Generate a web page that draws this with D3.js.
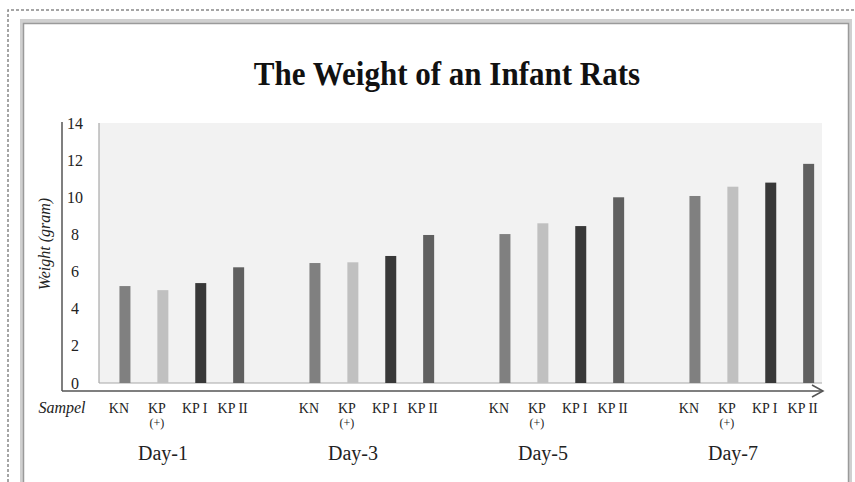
<!DOCTYPE html>
<html>
<head>
<meta charset="utf-8">
<script src="https://cdn.jsdelivr.net/npm/d3@7/dist/d3.min.js"></script>
<style>
  html, body { margin: 0; padding: 0; background: #fff; }
  svg { display: block; }
  text { font-family: "Liberation Serif", "Times New Roman", serif; fill: #222; }
</style>
</head>
<body>
<svg id="chart" width="855" height="482"></svg>
<script>
const title = "The Weight of an Infant Rats";
const days = ["Day-1", "Day-3", "Day-5", "Day-7"];
const samples = ["KN", "KP(+)", "KP I", "KP II"];
const sampleLabels = ["KN", "KP", "KP I", "KP II"];
const sampleSubLabels = ["", "(+)", "", ""];
const colors = ["#808080", "#c0c0c0", "#383838", "#606060"];
const valuesKN   = [5.22, 6.46, 8.02, 10.07];
const valuesKPp  = [5.00, 6.50, 8.60, 10.57];
const valuesKPI  = [5.38, 6.84, 8.45, 10.79];
const valuesKPII = [6.23, 7.97, 10.00, 11.80];
const yTicks = [0, 2, 4, 6, 8, 10, 12, 14];
const yLabel = "Weight (gram)";
const xLabel = "Sampel";

const seriesValues = [valuesKN, valuesKPp, valuesKPI, valuesKPII];
const data = [];
days.forEach((d, di) => samples.forEach((s, si) => data.push({day: d, sample: s, si, value: seriesValues[si][di]})));

const svg = d3.select("#chart");

// outer dashed frame
svg.append("path").attr("d", "M8,482 L8,10 L855,10")
  .attr("fill", "none").attr("stroke", "#888").attr("stroke-width", 1.5).attr("stroke-dasharray", "3,2");

// inner box with shadowed border
svg.append("rect").attr("x", 22).attr("y", 21).attr("width", 828).attr("height", 470)
  .attr("fill", "#fff").attr("stroke", "#d0d0d0").attr("stroke-width", 4);
svg.append("rect").attr("x", 23.5).attr("y", 23.5).attr("width", 825).attr("height", 470)
  .attr("fill", "none").attr("stroke", "#9a9a9a").attr("stroke-width", 1.5);

// title
svg.append("text").attr("transform", "translate(447,85) scale(0.97,1.08)").attr("text-anchor", "middle")
  .style("font-size", "32px").style("font-weight", "bold").style("fill", "#111").text(title);

const y = d3.scaleLinear().domain([0, 14]).range([383, 123]);
const x0 = d3.scaleBand().domain(days).range([106, 866]).padding(0);
const x1 = d3.scaleBand().domain(samples).range([0, 151.6]).padding(0);
const barW = 11;
const cx = d => x0(d.day) + x1(d.sample) + x1.bandwidth() / 2;

// plot area
svg.append("rect").attr("x", 99).attr("y", y(14)).attr("width", 723).attr("height", y(0) - y(14))
  .attr("fill", "#f2f2f2");
svg.append("line").attr("x1", 99).attr("x2", 99).attr("y1", y(14)).attr("y2", y(0))
  .attr("stroke", "#a8a8a8").attr("stroke-width", 1.2);
svg.append("line").attr("x1", 99).attr("x2", 822).attr("y1", y(0)).attr("y2", y(0))
  .attr("stroke", "#a8a8a8").attr("stroke-width", 1.2);

// bars
svg.append("g").selectAll("rect").data(data).join("rect")
  .attr("x", d => cx(d) - barW / 2)
  .attr("y", d => y(d.value))
  .attr("width", barW)
  .attr("height", d => y(0) - y(d.value))
  .attr("fill", d => colors[d.si]);

// y axis
const yAxis = d3.axisLeft(y).tickValues(yTicks).tickSize(0).tickPadding(0);
const gy = svg.append("g").attr("transform", "translate(83,0)").call(yAxis);
gy.select(".domain").remove();
gy.selectAll("text").style("font-size", "16px").style("fill", "#222")
  .attr("text-anchor", "middle").attr("dx", "-8");
svg.append("line").attr("x1", 62).attr("x2", 62).attr("y1", 122).attr("y2", 391)
  .attr("stroke", "#555").attr("stroke-width", 1.5);

// x axis arrow
svg.append("line").attr("x1", 62).attr("x2", 822).attr("y1", 391).attr("y2", 391)
  .attr("stroke", "#555").attr("stroke-width", 1.5);
svg.append("path").attr("d", "M812,385 L823,391 L812,397")
  .attr("fill", "none").attr("stroke", "#555").attr("stroke-width", 1.5);

// y label
svg.append("text").attr("transform", "translate(50,244) rotate(-90)")
  .attr("text-anchor", "middle").style("font-size", "16px").style("font-style", "italic")
  .text(yLabel);

// x label
svg.append("text").attr("x", 62).attr("y", 413).attr("text-anchor", "middle")
  .style("font-size", "16px").style("font-style", "italic").text(xLabel);

// sample labels
const lab = svg.append("g");
data.forEach(d => {
  lab.append("text").attr("x", cx(d) - 6).attr("y", 413).attr("text-anchor", "middle")
    .style("font-size", "14px").text(sampleLabels[d.si]);
  if (sampleSubLabels[d.si]) {
    lab.append("text").attr("x", cx(d) - 6).attr("y", 427).attr("text-anchor", "middle")
      .style("font-size", "12px").text(sampleSubLabels[d.si]);
  }
});

// day labels
svg.append("g").selectAll("text").data(days).join("text")
  .attr("x", d => x0(d) + 57).attr("y", 460).attr("text-anchor", "middle")
  .style("font-size", "20px").text(d => d);
</script>
</body>
</html>
